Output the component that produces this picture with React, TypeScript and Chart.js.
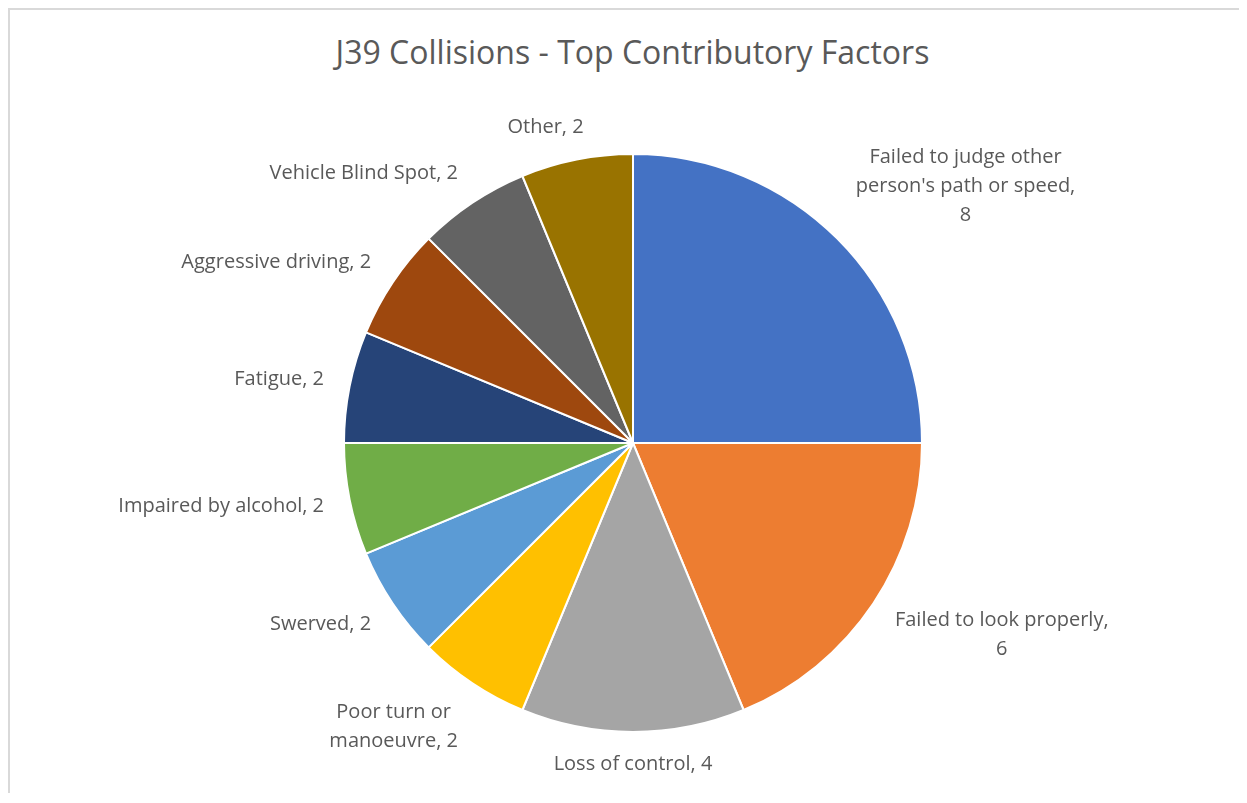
import React, { useEffect, useRef } from "react";
import { Chart, registerables } from "chart.js";

Chart.register(...registerables);

const TITLE = "J39 Collisions - Top Contributory Factors";

const categories = [
  "Failed to judge other person's path or speed",
  "Failed to look properly",
  "Loss of control",
  "Poor turn or manoeuvre",
  "Swerved",
  "Impaired by alcohol",
  "Fatigue",
  "Aggressive driving",
  "Vehicle Blind Spot",
  "Other",
];

const values = [8, 6, 4, 2, 2, 2, 2, 2, 2, 2];

const colors = [
  "#4472C4",
  "#ED7D31",
  "#A5A5A5",
  "#FFC000",
  "#5B9BD5",
  "#70AD47",
  "#264478",
  "#9E480E",
  "#636363",
  "#997300",
];

// how each data label wraps (Excel-style wrapped labels)
const labelLines = [
  ["Failed to judge other", "person's path or speed,", "8"],
  ["Failed to look properly,", "6"],
  ["Loss of control, 4"],
  ["Poor turn or", "manoeuvre, 2"],
  ["Swerved, 2"],
  ["Impaired by alcohol, 2"],
  ["Fatigue, 2"],
  ["Aggressive driving, 2"],
  ["Vehicle Blind Spot, 2"],
  ["Other, 2"],
];

const FONT = "'Open Sans', sans-serif";
const TEXT_COLOR = "#595959";

const clamp = (v: number) => Math.max(-1, Math.min(1, v));

const outsideLabels = {
  id: "outsideLabels",
  afterDatasetsDraw(chart: any) {
    const ctx = chart.ctx;
    const meta = chart.getDatasetMeta(0);
    const fontSize = 20;
    const lineH = 29;
    const gapX = 26;
    const gapY = 18;
    ctx.save();
    ctx.font = `${fontSize}px ${FONT}`;
    ctx.fillStyle = TEXT_COLOR;
    ctx.textAlign = "center";
    ctx.textBaseline = "middle";
    meta.data.forEach((arc: any, i: number) => {
      const { x, y, startAngle, endAngle, outerRadius } = arc.getProps(
        ["x", "y", "startAngle", "endAngle", "outerRadius"],
        true
      );
      const mid = (startAngle + endAngle) / 2;
      const dx = Math.cos(mid);
      const dy = Math.sin(mid);
      const ax = x + (outerRadius + gapX) * dx;
      const ay = y + (outerRadius + gapY) * dy;
      const lines = labelLines[i];
      const w = Math.max(...lines.map((l) => ctx.measureText(l).width));
      const h = lines.length * lineH;
      const cx = ax + (w / 2) * clamp(dx * 3.5);
      const cy = ay + (h / 2) * clamp(dy * 1.3);
      lines.forEach((l, k) => {
        ctx.fillText(l, cx, cy - h / 2 + lineH / 2 + k * lineH);
      });
    });
    ctx.restore();
  },
};

export default function App() {
  const ref = useRef<HTMLCanvasElement | null>(null);
  useEffect(() => {
    if (!ref.current) return;
    const chart = new Chart(ref.current, {
      type: "pie",
      data: {
        labels: categories,
        datasets: [
          {
            data: values,
            backgroundColor: colors,
            borderColor: "#FFFFFF",
            borderWidth: 2,
          },
        ],
      },
      options: {
        animation: false,
        responsive: true,
        maintainAspectRatio: false,
        radius: 289,
        layout: { padding: { top: 104, bottom: 21, left: 9, right: 0 } },
        plugins: {
          legend: { display: false },
          tooltip: { enabled: false },
          title: { display: false },
        },
      },
      plugins: [outsideLabels],
    });
    return () => chart.destroy();
  }, []);

  return (
    <div
      style={{
        width: 1239,
        height: 785,
        borderTop: "2px solid #D9D9D9",
        borderLeft: "2px solid #D9D9D9",
        boxSizing: "border-box",
        position: "relative",
        background: "#fff",
      }}
    >
      <div
        style={{
          position: "absolute",
          top: 22,
          left: 0,
          width: "100%",
          textAlign: "center",
          fontFamily: FONT,
          fontSize: 32,
          color: TEXT_COLOR,
          paddingLeft: 8,
          boxSizing: "border-box",
          lineHeight: "40px",
        }}
      >
        {TITLE}
      </div>
      <div style={{ position: "absolute", top: 0, left: 0, width: 1237, height: 783 }}>
        <canvas ref={ref} />
      </div>
    </div>
  );
}
